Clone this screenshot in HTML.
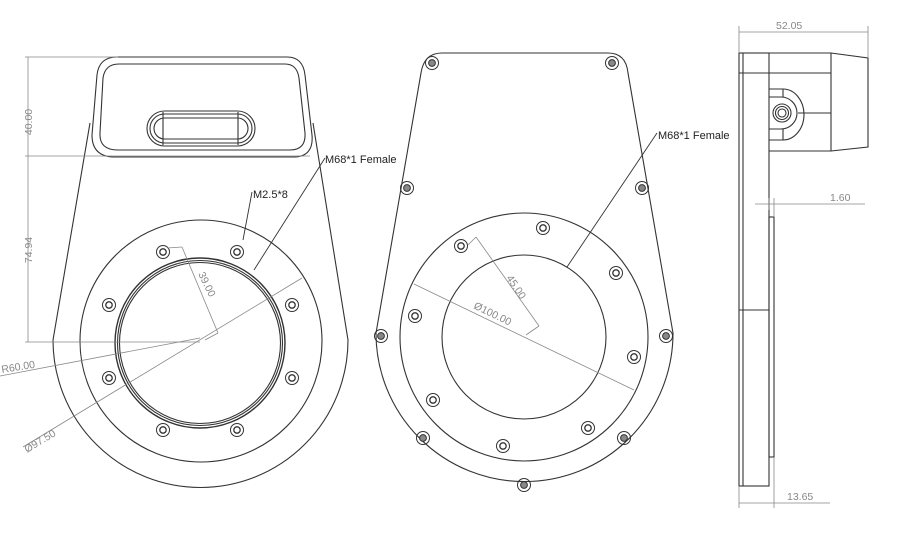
<!DOCTYPE html>
<html><head><meta charset="utf-8"><style>
html,body{margin:0;padding:0;background:#fff;}
svg{display:block;}
text{font-family:"Liberation Sans",sans-serif;}
</style></head><body>
<svg width="904" height="556" viewBox="0 0 904 556" xmlns="http://www.w3.org/2000/svg">
<defs>
<g id="h"><circle r="6.5" fill="none" stroke="#333" stroke-width="1"/><circle r="3.2" fill="none" stroke="#333" stroke-width="1.3"/></g>
<g id="h2"><circle r="6.5" fill="none" stroke="#333" stroke-width="1"/><circle r="3.4" fill="#888" stroke="#333" stroke-width="1"/></g>
</defs>
<g fill="none" stroke="#333" stroke-width="1.1">
<!-- LEFT VIEW -->
<path d="M90,123 L53,340 A147.5,147.5 0 1 0 348,340 L313,123"/>
<path d="M117,57 L287,57 Q303,57 305,75 L312,135 Q314,157 293,157 L115,157 Q92,157 92,135 L97,75 Q99,57 117,57 Z"/>
<path d="M119,64 L285,64 Q297,64 299,78 L305,133 Q306,150 290,150 L118,150 Q99,150 100,133 L103,78 Q105,64 119,64 Z"/>
<rect x="147" y="111" width="108" height="35" rx="17.5"/>
<rect x="150" y="114" width="102" height="29" rx="14.5"/>
<rect x="154" y="118" width="94" height="21" rx="10.5"/>
<line x1="163" y1="112" x2="163" y2="145"/><line x1="238" y1="112" x2="238" y2="145"/>
<circle cx="201" cy="341" r="121"/>
<circle cx="200" cy="343" r="85" stroke-width="1.4"/>
<circle cx="200" cy="343" r="82.5"/>
<circle cx="200" cy="343" r="80.5"/>
<!-- MIDDLE VIEW -->
<path d="M442,53 L608,53 Q626,53 628,73 L673,333 A148.5,148.5 0 1 1 376,333 L421,73 Q424,53 442,53 Z"/>
<circle cx="524" cy="337" r="124"/>
<circle cx="524" cy="337" r="82"/>
<!-- SIDE VIEW -->
<rect x="739" y="53" width="30" height="433"/>
<line x1="743" y1="53" x2="743" y2="486"/>
<line x1="739" y1="73" x2="831" y2="73"/>
<line x1="739" y1="310" x2="769" y2="310"/>
<path d="M769,53 L831,53 L831,151 L769,151"/>
<path d="M831,53 L868,58 L868,147 L831,151"/>
<rect x="769" y="217" width="5" height="240"/>
<path d="M769,89 L783,89 A21,25.5 0 0 1 783,140 L769,140"/>
<path d="M769,97 L781,97 A16,16 0 0 1 781,129 L769,129"/>
<line x1="783" y1="89" x2="783" y2="97"/><line x1="783" y1="129" x2="783" y2="140"/>
<line x1="798" y1="113" x2="831" y2="113"/>
<circle cx="782" cy="113" r="9"/><circle cx="782" cy="113" r="6.5"/><circle cx="782" cy="113" r="4"/>
</g>
<!-- holes left -->
<use href="#h" x="163" y="252"/><use href="#h" x="237" y="252"/>
<use href="#h" x="109" y="305"/><use href="#h" x="292" y="305"/>
<use href="#h" x="109" y="378"/><use href="#h" x="292" y="378"/>
<use href="#h" x="163" y="430"/><use href="#h" x="237" y="430"/>
<!-- holes middle outer -->
<use href="#h2" x="432" y="63"/><use href="#h2" x="612" y="63"/>
<use href="#h2" x="407" y="188"/><use href="#h2" x="642" y="188"/>
<use href="#h2" x="381" y="336"/><use href="#h2" x="666" y="336"/>
<use href="#h2" x="423" y="438"/><use href="#h2" x="624" y="438"/>
<use href="#h2" x="524" y="485"/>
<use href="#h" x="461" y="246"/><use href="#h" x="543" y="228"/>
<use href="#h" x="616" y="273"/><use href="#h" x="415" y="316"/>
<use href="#h" x="634" y="357"/><use href="#h" x="433" y="400"/>
<use href="#h" x="588" y="428"/><use href="#h" x="503" y="446"/>
<!-- dimensions -->
<g fill="none" stroke="#888" stroke-width="0.8">
<line x1="28" y1="57" x2="28" y2="342"/>
<line x1="25" y1="57" x2="118" y2="57"/>
<line x1="25" y1="156" x2="310" y2="156"/>
<line x1="25" y1="342" x2="200" y2="342"/>
<line x1="0" y1="376" x2="200" y2="338"/>
<line x1="23" y1="447" x2="302" y2="278"/>
<line x1="167" y1="248" x2="182" y2="247"/>
<line x1="182" y1="247" x2="218" y2="333"/>
<line x1="218" y1="333" x2="205" y2="340"/>
<line x1="414" y1="284" x2="634" y2="390"/>
<line x1="468" y1="245" x2="476" y2="237"/>
<line x1="476" y1="237" x2="539" y2="326"/>
<line x1="539" y1="326" x2="526" y2="335"/>
<line x1="739" y1="32" x2="868" y2="32"/>
<line x1="739" y1="26" x2="739" y2="53"/><line x1="868" y1="26" x2="868" y2="58"/>
<line x1="755" y1="204" x2="865" y2="204"/>
<line x1="769" y1="198" x2="769" y2="210"/><line x1="774" y1="198" x2="774" y2="217"/>
<line x1="739" y1="486" x2="739" y2="508"/><line x1="774" y1="457" x2="774" y2="508"/>
<line x1="739" y1="503" x2="830" y2="503"/>
</g>
<g fill="none" stroke="#333" stroke-width="0.9">
<line x1="252" y1="192" x2="243" y2="240"/>
<line x1="325" y1="158" x2="254" y2="270"/>
<line x1="657" y1="133" x2="567" y2="267"/>
</g>
<g fill="#888" font-size="10.5">
<text transform="translate(32,122) rotate(-90)" text-anchor="middle">40.00</text>
<text transform="translate(32,250) rotate(-90)" text-anchor="middle">74.94</text>
<text transform="translate(2,373) rotate(-9)">R60.00</text>
<text transform="translate(27,453) rotate(-31)">Ø97.50</text>
<text transform="translate(198,274) rotate(64)">39.00</text>
<text transform="translate(506,278) rotate(56)">45.00</text>
<text transform="translate(473,308) rotate(26)">Ø100.00</text>
<text x="776" y="29">52.05</text>
<text x="830" y="201">1.60</text>
<text x="787" y="500">13.65</text>
</g>
<g fill="#222" font-size="11">
<text x="253" y="198">M2.5*8</text>
<text x="325" y="163">M68*1 Female</text>
<text x="658" y="139">M68*1 Female</text>
</g>
</svg>
</body></html>
